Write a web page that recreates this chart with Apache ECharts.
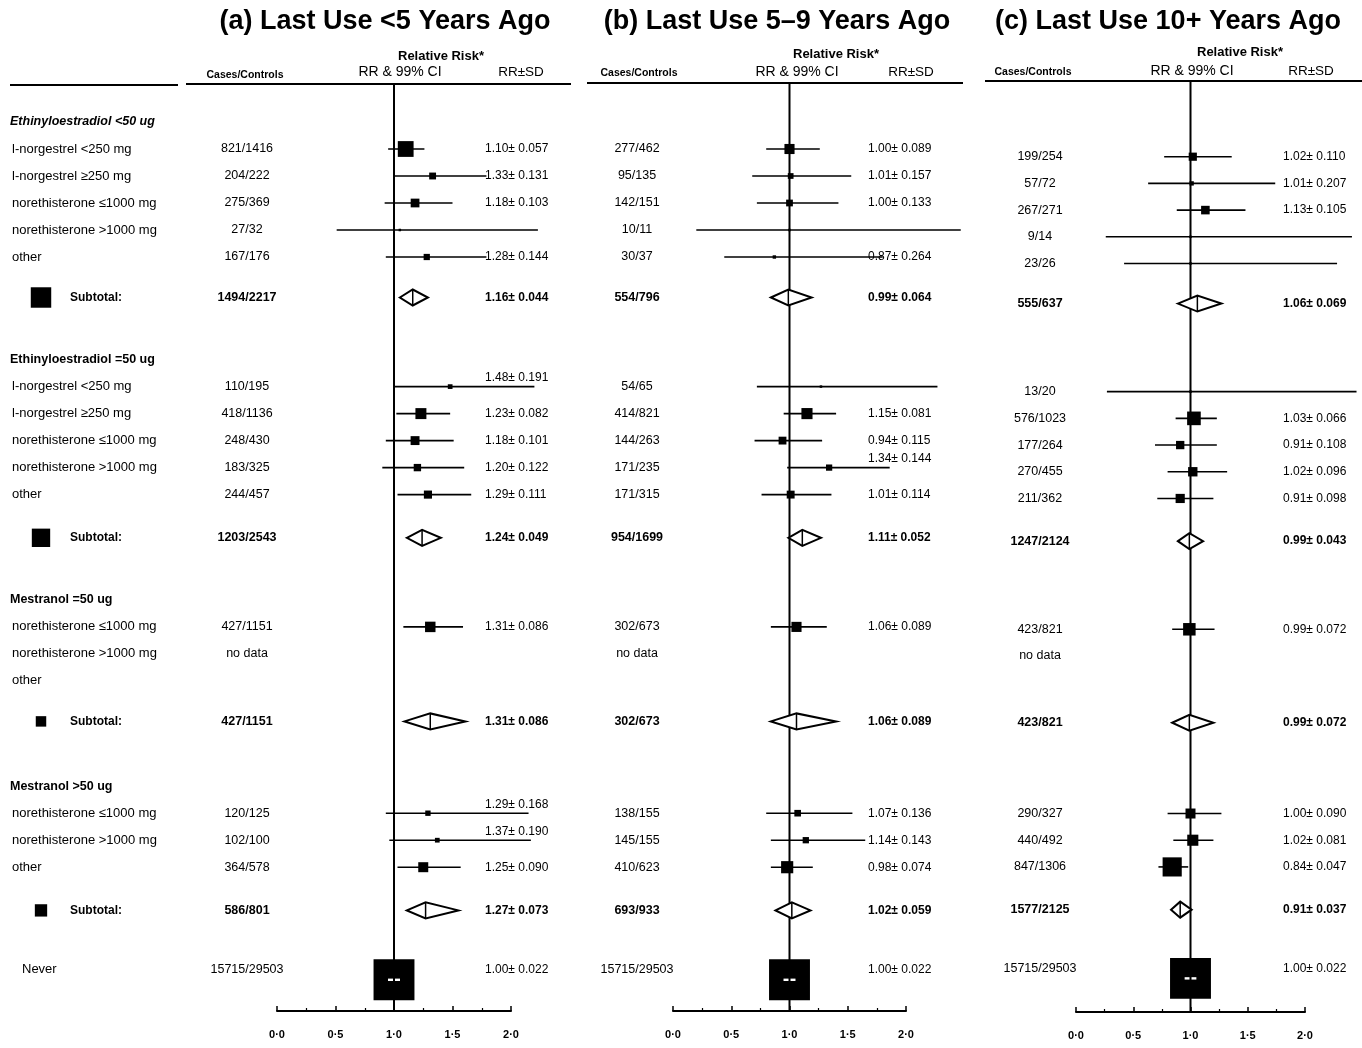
<!DOCTYPE html>
<html>
<head>
<meta charset="utf-8">
<script src="https://cdn.jsdelivr.net/npm/echarts/dist/echarts.min.js"></script>
<style>html,body{margin:0;padding:0;background:#fff}#main{width:1362px;height:1048px}</style>
</head>
<body>
<div id="main"></div>
<script>
// ---------------- DATA ----------------
const panelTitles = ['(a) Last Use <5 Years Ago', '(b) Last Use 5\u20139 Years Ago', '(c) Last Use 10+ Years Ago'];
const rowLabels = [
  'Ethinyloestradiol <50 ug', 'l-norgestrel <250 mg', 'l-norgestrel \u2265250 mg', 'norethisterone \u22641000 mg', 'norethisterone >1000 mg', 'other', 'Subtotal:',
  'Ethinyloestradiol =50 ug', 'l-norgestrel <250 mg', 'l-norgestrel \u2265250 mg', 'norethisterone \u22641000 mg', 'norethisterone >1000 mg', 'other', 'Subtotal:',
  'Mestranol =50 ug', 'norethisterone \u22641000 mg', 'norethisterone >1000 mg', 'other', 'Subtotal:',
  'Mestranol >50 ug', 'norethisterone \u22641000 mg', 'norethisterone >1000 mg', 'other', 'Subtotal:',
  'Never'
];
// h = group heading, r = formulation, s = subtotal, n = never users
const rowKinds = ['h','r','r','r','r','r','s','h','r','r','r','r','r','s','h','r','r','r','s','h','r','r','r','s','n'];
const rowPos = [0,1,2,3,4,5,6.5, 8.8,9.8,10.8,11.8,12.8,13.8,15.4, 17.7,18.7,19.7,20.7,22.2, 24.6,25.6,26.6,27.6,29.2, 31.4];
const xTicks = [0, 0.5, 1, 1.5, 2];

// Panel (a) Last use <5 years ago
const casesA = [null,'821/1416','204/222','275/369','27/32','167/176','1494/2217', null,'110/195','418/1136','248/430','183/325','244/457','1203/2543', null,'427/1151','no data',null,'427/1151', null,'120/125','102/100','364/578','586/801','15715/29503'];
const rrA = [null,1.10,1.33,1.18,1.05,1.28,1.16, null,1.48,1.23,1.18,1.20,1.29,1.24, null,1.31,null,null,1.31, null,1.29,1.37,1.25,1.27,1.00];
const sdA = [null,0.057,0.131,0.103,null,0.144,0.044, null,0.191,0.082,0.101,0.122,0.111,0.049, null,0.086,null,null,0.086, null,0.168,0.190,0.090,0.073,0.022];
const loA = [null,0.95,1.00,0.92,0.51,0.93,1.05, null,1.00,1.02,0.93,0.90,1.03,1.11, null,1.08,null,null,1.09, null,0.93,0.96,1.03,1.11,0.94];
const hiA = [null,1.26,1.79,1.50,2.23,1.79,1.29, null,2.20,1.48,1.51,1.60,1.66,1.40, null,1.59,null,null,1.61, null,2.15,2.17,1.57,1.55,1.06];

// Panel (b) Last use 5-9 years ago
const casesB = [null,'277/462','95/135','142/151','10/11','30/37','554/796', null,'54/65','414/821','144/263','171/235','171/315','954/1699', null,'302/673','no data',null,'302/673', null,'138/155','145/155','410/623','693/933','15715/29503'];
const rrB = [null,1.00,1.01,1.00,1.00,0.87,0.99, null,1.27,1.15,0.94,1.34,1.01,1.11, null,1.06,null,null,1.06, null,1.07,1.14,0.98,1.02,1.00];
const sdB = [null,0.089,0.157,0.133,null,0.264,0.064, null,null,0.081,0.115,0.144,0.114,0.052, null,0.089,null,null,0.089, null,0.136,0.143,0.074,0.059,0.022];
const loB = [null,0.80,0.68,0.72,0.20,0.44,0.84, null,0.72,0.95,0.70,0.98,0.76,0.99, null,0.84,null,null,0.84, null,0.80,0.84,0.84,0.88,0.94];
const hiB = [null,1.26,1.53,1.42,2.47,1.80,1.19, null,2.27,1.40,1.28,1.86,1.36,1.27, null,1.32,null,null,1.40, null,1.54,1.65,1.20,1.18,1.06];

// Panel (c) Last use 10+ years ago
const casesC = [null,'199/254','57/72','267/271','9/14','23/26','555/637', null,'13/20','576/1023','177/264','270/455','211/362','1247/2124', null,'423/821','no data',null,'423/821', null,'290/327','440/492','847/1306','1577/2125','15715/29503'];
const rrC = [null,1.02,1.01,1.13,1.00,1.00,1.06, null,1.00,1.03,0.91,1.02,0.91,0.99, null,0.99,null,null,0.99, null,1.00,1.02,0.84,0.91,1.00];
const sdC = [null,0.110,0.207,0.105,null,null,0.069, null,null,0.066,0.108,0.096,0.098,0.043, null,0.072,null,null,0.072, null,0.090,0.081,0.047,0.037,0.022];
const loC = [null,0.77,0.63,0.88,0.26,0.42,0.89, null,0.27,0.87,0.69,0.80,0.71,0.89, null,0.84,null,null,0.84, null,0.80,0.85,0.72,0.83,0.94];
const hiC = [null,1.36,1.74,1.48,2.41,2.28,1.27, null,2.45,1.23,1.23,1.32,1.20,1.11, null,1.21,null,null,1.20, null,1.27,1.20,0.98,1.01,1.06];

// ---------------- LAYOUT ----------------
const panelData = [
  {cases: casesA, rr: rrA, sd: sdA, lo: loA, hi: hiA},
  {cases: casesB, rr: rrB, sd: sdB, lo: loB, hi: hiB},
  {cases: casesC, rr: rrC, sd: sdC, lo: loC, hi: hiC}
];
const layout = [
  {gridLeft: 277, gridWidth: 234, lineY: 84, axisY: 1011, y0: 122, s: 27, casesX: 247, rrX: 485, titleX: 385, rel: [441, 56], cc: [245, 75], ci: [400, 72], sdH: [521, 72], line: [186, 571]},
  {gridLeft: 673, gridWidth: 233, lineY: 83, axisY: 1011, y0: 122, s: 27, casesX: 637, rrX: 868, titleX: 777, rel: [836, 54], cc: [639, 73], ci: [797, 72], sdH: [911, 72], line: [587, 963]},
  {gridLeft: 1076, gridWidth: 229, lineY: 81, axisY: 1012, y0: 130, s: 26.7, casesX: 1040, rrX: 1283, titleX: 1168, rel: [1240, 52], cc: [1033, 72], ci: [1192, 71], sdH: [1311, 71], line: [985, 1362]}
];
const raisedRows = [[8, 20, 21], [11], []];
const neverDy = 10;
const FAM = '"Liberation Sans", Arial, Helvetica, sans-serif';
const font = (size, weight, style) => `${style || 'normal'} ${weight || 'normal'} ${size}px ${FAM}`;

function T(x, y, text, align, f) {
  return {type: 'text', x: x, y: y, style: {text: text, font: f, fill: '#000', align: align, verticalAlign: 'middle', textAlign: align, textVerticalAlign: 'middle'}};
}

function panelRender(pi) {
  const L = layout[pi], D = panelData[pi];
  return function (params, api) {
    const i = api.value(0);
    const pos = api.value(1);
    const kind = rowKinds[i];
    const y = api.coord([0, pos])[1];
    const ch = [];
    const bold = kind === 's';
    if (D.cases[i]) ch.push(T(L.casesX, y, D.cases[i], 'center', font(12.5, bold ? 'bold' : 'normal')));
    const rr = api.value(2), lo = api.value(3), hi = api.value(4);
    if (D.rr[i] != null) {
      const pr = api.coord([rr, pos])[0], pl = api.coord([lo, pos])[0], ph = api.coord([hi, pos])[0];
      if (kind === 'r') {
        ch.push({type: 'line', shape: {x1: pl, y1: y, x2: ph, y2: y}, style: {stroke: '#000', lineWidth: 1.6}});
        const sd = D.sd[i];
        const side = sd ? Math.max(3, 0.9 / sd) : 2.5;
        ch.push({type: 'rect', shape: {x: pr - side / 2, y: y - side / 2, width: side, height: side}, style: {fill: '#000'}});
      } else if (kind === 's') {
        const h = 8;
        ch.push({type: 'polygon', shape: {points: [[pl, y], [pr, y - h], [ph, y], [pr, y + h]]}, style: {fill: '#fff', stroke: '#000', lineWidth: 2}});
        ch.push({type: 'line', shape: {x1: pr, y1: y - h, x2: pr, y2: y + h}, style: {stroke: '#000', lineWidth: 1.5}});
      } else if (kind === 'n') {
        const side = 0.9 / D.sd[i];
        const cy = y + neverDy;
        ch.push({type: 'rect', shape: {x: pr - side / 2, y: cy - side / 2, width: side, height: side}, style: {fill: '#000'}});
        ch.push({type: 'rect', shape: {x: pl + 1, y: cy - 1.2, width: pr - pl - 2, height: 2.4}, style: {fill: '#fff'}});
        ch.push({type: 'rect', shape: {x: pr + 1, y: cy - 1.2, width: ph - pr - 2, height: 2.4}, style: {fill: '#fff'}});
      }
      if (D.sd[i] != null) {
        const raise = raisedRows[pi].indexOf(i) >= 0 ? 9 : 0;
        ch.push(T(L.rrX, y - raise, rr.toFixed(2) + '\u00b1 ' + D.sd[i].toFixed(3), 'left', font(12, bold ? 'bold' : 'normal')));
      }
    }
    return {type: 'group', children: ch};
  };
}

function labelRender(params, api) {
  const i = api.value(0);
  const pos = api.value(1);
  const kind = rowKinds[i];
  const y = api.coord([0, pos])[1];
  const ch = [];
  if (kind === 'h') {
    ch.push(T(10, y, rowLabels[i], 'left', font(12.5, 'bold', i === 0 ? 'italic' : 'normal')));
  } else if (kind === 's') {
    const side = 0.9 / sdA[i];
    ch.push({type: 'rect', shape: {x: 41 - side / 2, y: y - side / 2, width: side, height: side}, style: {fill: '#000'}});
    ch.push(T(70, y, rowLabels[i], 'left', font(12, 'bold')));
  } else if (kind === 'n') {
    ch.push(T(22, y, rowLabels[i], 'left', font(13)));
  } else {
    ch.push(T(12, y, rowLabels[i], 'left', font(13)));
  }
  return {type: 'group', children: ch};
}

// ---------------- OPTION ----------------
const grids = [], xAxes = [], yAxes = [], series = [], graphics = [];
layout.forEach((L, pi) => {
  const yMin = (L.lineY - L.y0) / L.s, yMax = (L.axisY - L.y0) / L.s;
  grids.push({left: L.gridLeft, width: L.gridWidth, top: L.lineY, height: L.axisY - L.lineY, containLabel: false});
  xAxes.push({
    type: 'value', gridIndex: pi, position: 'bottom', min: xTicks[0], max: xTicks[xTicks.length - 1], interval: xTicks[1] - xTicks[0],
    axisLine: {show: true, onZero: false, lineStyle: {color: '#000', width: 2}},
    axisTick: {show: true, inside: true, length: 5, lineStyle: {color: '#000', width: 1.5}},
    minorTick: {show: true, splitNumber: 2, length: 3, lineStyle: {color: '#000', width: 1.2}},
    splitLine: {show: false}, minorSplitLine: {show: false},
    axisLabel: {color: '#000', fontWeight: 'bold', fontSize: 11, fontFamily: FAM, margin: 18,
      formatter: v => v.toFixed(1).replace('.', '\u00b7')}
  });
  yAxes.push({type: 'value', gridIndex: pi, min: yMin, max: yMax, inverse: true, show: false});
  series.push({
    type: 'line', xAxisIndex: pi, yAxisIndex: pi, silent: true, showSymbol: false, animation: false,
    data: [[1, yMin], [1, yMax]], lineStyle: {color: '#000', width: 2}
  });
  const D = panelData[pi];
  const data = [];
  rowLabels.forEach((_, i) => {
    if (D.cases[i] != null || D.rr[i] != null) data.push([i, rowPos[i], D.rr[i], D.lo[i], D.hi[i]]);
  });
  series.push({
    type: 'custom', xAxisIndex: pi, yAxisIndex: pi, clip: false, animation: false, silent: true,
    encode: {x: [2, 3, 4], y: 1}, renderItem: panelRender(pi), data: data, z: 5
  });
  // headers
  graphics.push({type: 'text', x: L.titleX, y: 22, style: {text: panelTitles[pi], font: font(27, 'bold'), fill: '#000', align: 'center', verticalAlign: 'middle', textAlign: 'center', textVerticalAlign: 'middle'}});
  graphics.push({type: 'text', x: L.rel[0], y: L.rel[1], style: {text: 'Relative Risk*', font: font(13, 'bold'), fill: '#000', align: 'center', verticalAlign: 'middle', textAlign: 'center', textVerticalAlign: 'middle'}});
  graphics.push({type: 'text', x: L.cc[0], y: L.cc[1], style: {text: 'Cases/Controls', font: font(10.5, 'bold'), fill: '#000', align: 'center', verticalAlign: 'middle', textAlign: 'center', textVerticalAlign: 'middle'}});
  graphics.push({type: 'text', x: L.ci[0], y: L.ci[1], style: {text: 'RR & 99% CI', font: font(14), fill: '#000', align: 'center', verticalAlign: 'middle', textAlign: 'center', textVerticalAlign: 'middle'}});
  graphics.push({type: 'text', x: L.sdH[0], y: L.sdH[1], style: {text: 'RR\u00b1SD', font: font(13.5), fill: '#000', align: 'center', verticalAlign: 'middle', textAlign: 'center', textVerticalAlign: 'middle'}});
  graphics.push({type: 'line', shape: {x1: L.line[0], y1: L.lineY, x2: L.line[1], y2: L.lineY}, style: {stroke: '#000', lineWidth: 2}});
});
graphics.push({type: 'line', shape: {x1: 10, y1: 85, x2: 178, y2: 85}, style: {stroke: '#000', lineWidth: 2}});

series.push({
  type: 'custom', xAxisIndex: 0, yAxisIndex: 0, clip: false, animation: false, silent: true,
  encode: {x: 2, y: 1}, renderItem: labelRender,
  data: rowLabels.map((_, i) => [i, rowPos[i], 0])
});

const chart = echarts.init(document.getElementById('main'), null, {renderer: 'canvas'});
chart.setOption({
  backgroundColor: '#fff',
  animation: false,
  grid: grids, xAxis: xAxes, yAxis: yAxes, series: series,
  graphic: {elements: graphics}
});
</script>
</body>
</html>
